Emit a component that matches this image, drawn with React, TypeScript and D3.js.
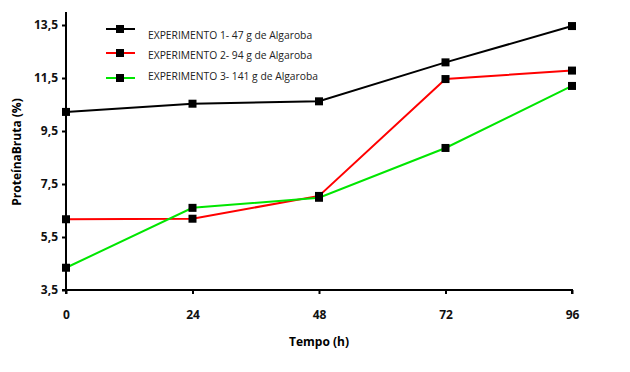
import React, { useRef, useEffect } from "react";
import * as d3 from "d3";

const horas = [0, 24, 48, 72, 96];
const exp1 = [10.22, 10.53, 10.62, 12.09, 13.46];
const exp2 = [6.17, 6.19, 7.05, 11.46, 11.78];
const exp3 = [4.34, 6.6, 6.98, 8.86, 11.2];
const yTicks = [3.5, 5.5, 7.5, 9.5, 11.5, 13.5];
const seriesNames = [
  "EXPERIMENTO 1- 47 g de Algaroba",
  "EXPERIMENTO 2- 94 g de Algaroba",
  "EXPERIMENTO 3- 141 g de Algaroba",
];
const colors = ["#000000", "#ff0000", "#00e600"];

const width = 630;
const height = 372;
const font = "'Open Sans', 'DejaVu Sans', sans-serif";

const App = () => {
  const svgRef = useRef<SVGSVGElement>(null);

  useEffect(() => {
    const svg = d3.select(svgRef.current);
    svg.selectAll("*").remove();

    const x = d3.scaleLinear().domain([0, 96]).range([66, 572]);
    const y = d3.scaleLinear().domain([3.5, 13.5]).range([290, 25]);

    // axes
    const xAxis = d3.axisBottom(x).tickValues(horas).tickSize(4).tickFormat(d3.format("d"));
    const gx = svg.append("g").attr("transform", "translate(0,290)").call(xAxis);
    gx.select(".domain").attr("stroke-width", 2).attr("d", "M66,4V0H572V4");
    gx.selectAll(".tick line").attr("stroke-width", 2);
    gx.selectAll(".tick text")
      .attr("y", 20)
      .attr("font-family", font)
      .attr("font-size", 12)
      .attr("font-weight", "bold")
      .attr("fill", "#111");

    const yAxis = d3.axisLeft(y).tickValues(yTicks).tickSize(4)
      .tickFormat((d) => d3.format(".1f")(d as number).replace(".", ","));
    const gy = svg.append("g").attr("transform", "translate(66,0)").call(yAxis);
    gy.select(".domain").attr("stroke-width", 2).attr("d", `M-4,290H0V12`);
    gy.selectAll(".tick line").attr("stroke-width", 2);
    gy.selectAll(".tick text")
      .attr("x", -8)
      .attr("font-family", font)
      .attr("font-size", 12)
      .attr("font-weight", "bold")
      .attr("fill", "#111");

    // titles
    svg.append("text")
      .attr("x", 319).attr("y", 346)
      .attr("text-anchor", "middle")
      .attr("font-family", font).attr("font-size", 12).attr("font-weight", "bold")
      .text("Tempo (h)");
    svg.append("text")
      .attr("transform", "translate(21,152) rotate(-90)")
      .attr("text-anchor", "middle")
      .attr("font-family", font).attr("font-size", 12).attr("font-weight", "bold")
      .text("ProteínaBruta (%)");

    const lineGen = d3.line<number>()
      .x((_, i) => x(horas[i]))
      .y((d) => y(d));

    const all = [exp1, exp2, exp3];
    all.forEach((vals, s) => {
      svg.append("path")
        .datum(vals)
        .attr("d", lineGen)
        .attr("fill", "none")
        .attr("stroke", colors[s])
        .attr("stroke-width", 2);
    });
    all.forEach((vals) => {
      svg.append("g").selectAll("rect")
        .data(vals)
        .join("rect")
        .attr("x", (_, i) => x(horas[i]) - 4)
        .attr("y", (d) => y(d) - 4)
        .attr("width", 8)
        .attr("height", 8)
        .attr("fill", "#000");
    });

    // legend
    const rowY = [29, 53, 78];
    const textY = [39, 59, 80];
    seriesNames.forEach((name, s) => {
      const g = svg.append("g");
      g.append("line")
        .attr("x1", 106).attr("x2", 135)
        .attr("y1", rowY[s]).attr("y2", rowY[s])
        .attr("stroke", colors[s]).attr("stroke-width", 2);
      g.append("rect")
        .attr("x", 116).attr("y", rowY[s] - 4)
        .attr("width", 8).attr("height", 8)
        .attr("fill", "#000");
      g.append("text")
        .attr("x", 148).attr("y", textY[s])
        .attr("font-family", font).attr("font-size", 10.3)
        .attr("fill", "#222")
        .text(name);
    });
  }, []);

  return (
    <svg
      ref={svgRef}
      width={width}
      height={height}
      style={{ position: "absolute", left: 0, top: 0, background: "#fff" }}
    />
  );
};

export default App;
